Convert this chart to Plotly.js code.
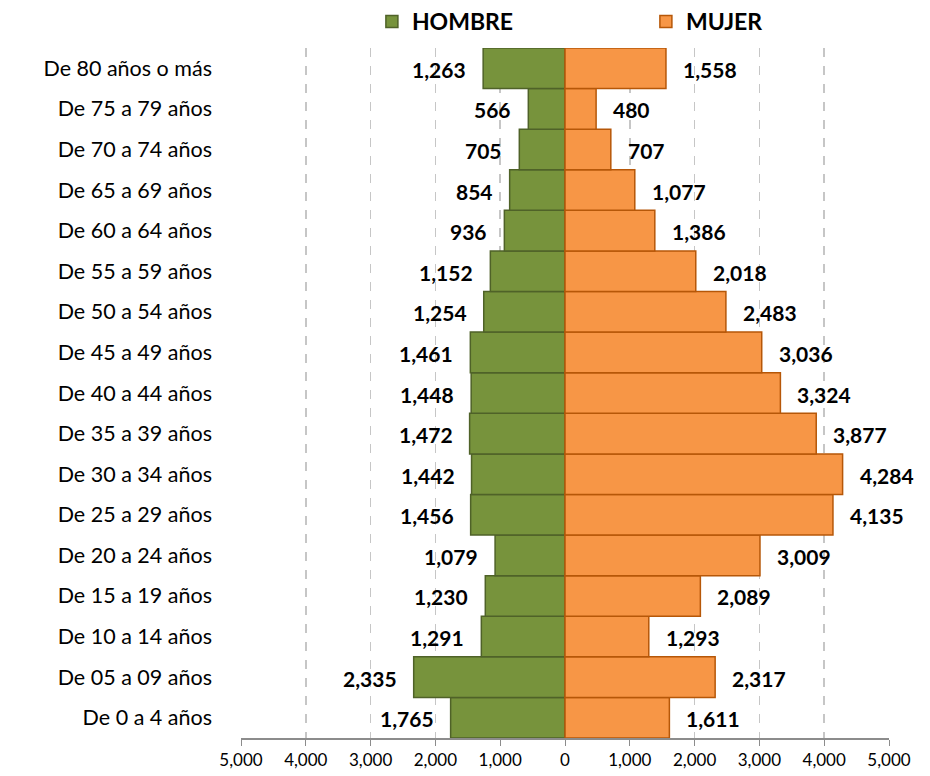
<!DOCTYPE html>
<html>
<head>
<meta charset="utf-8">
<script src="https://cdn.plot.ly/plotly-3.0.1.min.js"></script>
<style>
  html, body { margin: 0; padding: 0; background: #fff; }
  #grafico { width: 930px; height: 776px; }
</style>
</head>
<body>
<div id="grafico"></div>
<script>
// grupos de edad, de abajo hacia arriba
const grupos = [
  "De 0 a 4 años", "De 05 a 09 años", "De 10 a 14 años", "De 15 a 19 años",
  "De 20 a 24 años", "De 25 a 29 años", "De 30 a 34 años", "De 35 a 39 años",
  "De 40 a 44 años", "De 45 a 49 años", "De 50 a 54 años", "De 55 a 59 años",
  "De 60 a 64 años", "De 65 a 69 años", "De 70 a 74 años", "De 75 a 79 años",
  "De 80 años o más"
];
const hombres = [1765, 2335, 1291, 1230, 1079, 1456, 1442, 1472, 1448, 1461, 1254, 1152, 936, 854, 705, 566, 1263];
const mujeres = [1611, 2317, 1293, 2089, 3009, 4135, 4284, 3877, 3324, 3036, 2483, 2018, 1386, 1077, 707, 480, 1558];
const ticksX = [-5000, -4000, -3000, -2000, -1000, 0, 1000, 2000, 3000, 4000, 5000];

const fuente = "Lato, 'Open Sans', sans-serif";
const fmt = n => Math.abs(n).toLocaleString("en-US");

const traceHombre = {
  type: "bar",
  orientation: "h",
  name: "HOMBRE",
  y: grupos,
  x: hombres.map(v => -v),
  marker: { color: "#77933C", line: { color: "#4F6228", width: 1.5 } },
  hoverinfo: "none"
};

const traceMujer = {
  type: "bar",
  orientation: "h",
  name: "MUJER",
  y: grupos,
  x: mujeres,
  marker: { color: "#F79646", line: { color: "#B65708", width: 1.5 } },
  hoverinfo: "none"
};

// etiquetas de datos fuera de cada barra
const etiquetas = [];
grupos.forEach((g, i) => {
  etiquetas.push({
    x: -hombres[i], y: g, text: fmt(hombres[i]),
    xanchor: "right", xshift: -15, showarrow: false
  });
  etiquetas.push({
    x: mujeres[i], y: g, text: fmt(mujeres[i]),
    xanchor: "left", xshift: 15, showarrow: false
  });
});
etiquetas.forEach(a => {
  a.font = { family: fuente, size: 21, color: "#000", weight: "bold" };
  a.yshift = -1;
});

const layout = {
  width: 930,
  height: 776,
  margin: { l: 241, r: 41, t: 48, b: 38 },
  paper_bgcolor: "#fff",
  plot_bgcolor: "#fff",
  font: { family: fuente, color: "#000" },
  barmode: "overlay",
  bargap: 0,
  showlegend: true,
  legend: {
    orientation: "h",
    x: 0.202, xanchor: "left",
    yref: "container",
    y: 1, yanchor: "top",
    entrywidth: 229,
    font: { family: fuente, size: 23, weight: "bold" }
  },
  xaxis: {
    range: [-5000, 5000],
    tickvals: ticksX,
    ticktext: ticksX.map(fmt),
    tickfont: { size: 17 },
    showgrid: true,
    gridcolor: "#c6c6c6",
    griddash: "dash",
    gridwidth: 1.5,
    zeroline: true,
    zerolinecolor: "#8c8c8c",
    zerolinewidth: 2,
    showline: true,
    linecolor: "#8c8c8c",
    linewidth: 1.5,
    ticks: "outside",
    ticklen: 6,
    tickcolor: "#8c8c8c",
    fixedrange: true
  },
  yaxis: {
    type: "category",
    tickfont: { size: 21.5 },
    ticks: "",
    ticklabelstandoff: 28,
    showgrid: false,
    fixedrange: true
  },
  annotations: etiquetas
};

Plotly.newPlot("grafico", [traceHombre, traceMujer], layout, { displayModeBar: false, staticPlot: true });
</script>
</body>
</html>
